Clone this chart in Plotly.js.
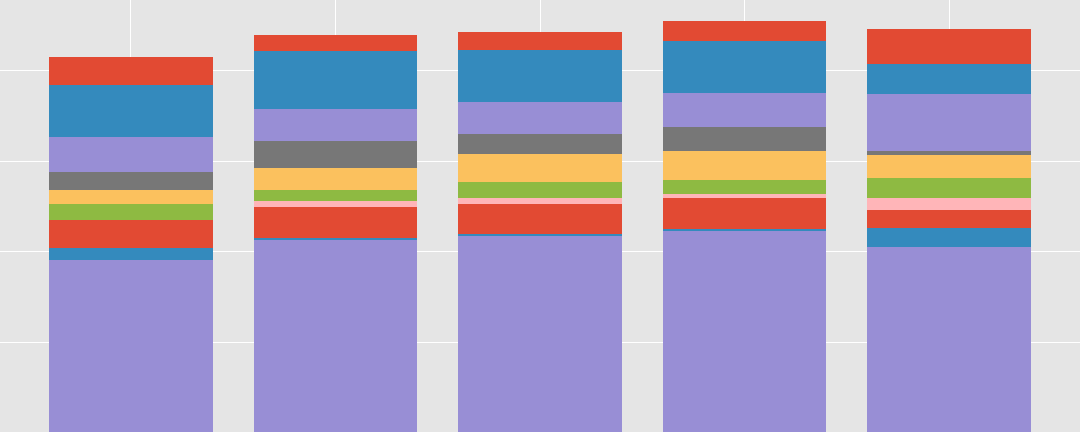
<!DOCTYPE html>
<html>
<head>
<meta charset="utf-8">
<script src="https://cdn.plot.ly/plotly-3.0.1.min.js"></script>
<style>html,body{margin:0;padding:0;background:#E5E5E5;}#chart{width:1080px;height:432px;}</style>
</head>
<body>
<div id="chart"></div>
<script>
// Categories (x positions, labels not visible in the reference crop)
const categories = ["A", "B", "C", "D", "E"];

// Series listed from the bottom of each stack to the top
const seriesNames = ["S10", "S9", "S8", "S7", "S6", "S5", "S4", "S3", "S2", "S1"];
const seriesColors = ["#988ED5", "#348ABD", "#E24A33", "#FFB5B8", "#8EBA42", "#FBC15E", "#777777", "#988ED5", "#348ABD", "#E24A33"];

const s10 = [190.9, 213.0, 217.4, 222.9, 205.3];
const s9  = [13.2, 2.2, 2.2, 2.2, 21.0];
const s8  = [30.9, 34.2, 33.1, 34.2, 19.9];
const s7  = [0.0, 6.6, 6.6, 4.4, 13.2];
const s6  = [18.0, 12.1, 17.7, 15.5, 22.1];
const s5  = [15.1, 24.3, 30.9, 32.0, 25.4];
const s4  = [19.9, 29.8, 22.1, 26.5, 4.4];
const s3  = [39.0, 35.3, 35.3, 37.5, 62.9];
const s2  = [57.1, 64.0, 57.7, 57.4, 33.1];
const s1  = [30.9, 18.0, 19.5, 22.1, 38.6];

const seriesValues = [s10, s9, s8, s7, s6, s5, s4, s3, s2, s1];

const traces = seriesValues.map((vals, i) => ({
  type: "bar",
  x: categories,
  y: vals,
  name: seriesNames[i],
  marker: {color: seriesColors[i], line: {width: 0}},
  hoverinfo: "x+y+name"
}));

const layout = {
  width: 1080,
  height: 432,
  margin: {l: 0, r: 0, t: 0, b: 0, pad: 0},
  paper_bgcolor: "#E5E5E5",
  plot_bgcolor: "#E5E5E5",
  barmode: "stack",
  bargap: 0.2,
  showlegend: false,
  xaxis: {
    type: "category",
    range: [-0.64, 4.64],
    showgrid: true,
    gridcolor: "#FFFFFF",
    gridwidth: 1,
    showticklabels: false,
    ticks: "",
    zeroline: false,
    showline: false
  },
  yaxis: {
    range: [1, 478],
    tick0: 0,
    dtick: 100,
    showgrid: true,
    gridcolor: "#FFFFFF",
    gridwidth: 1,
    showticklabels: false,
    ticks: "",
    zeroline: false,
    showline: false
  }
};

Plotly.newPlot("chart", traces, layout, {displayModeBar: false, staticPlot: true});
</script>
</body>
</html>
